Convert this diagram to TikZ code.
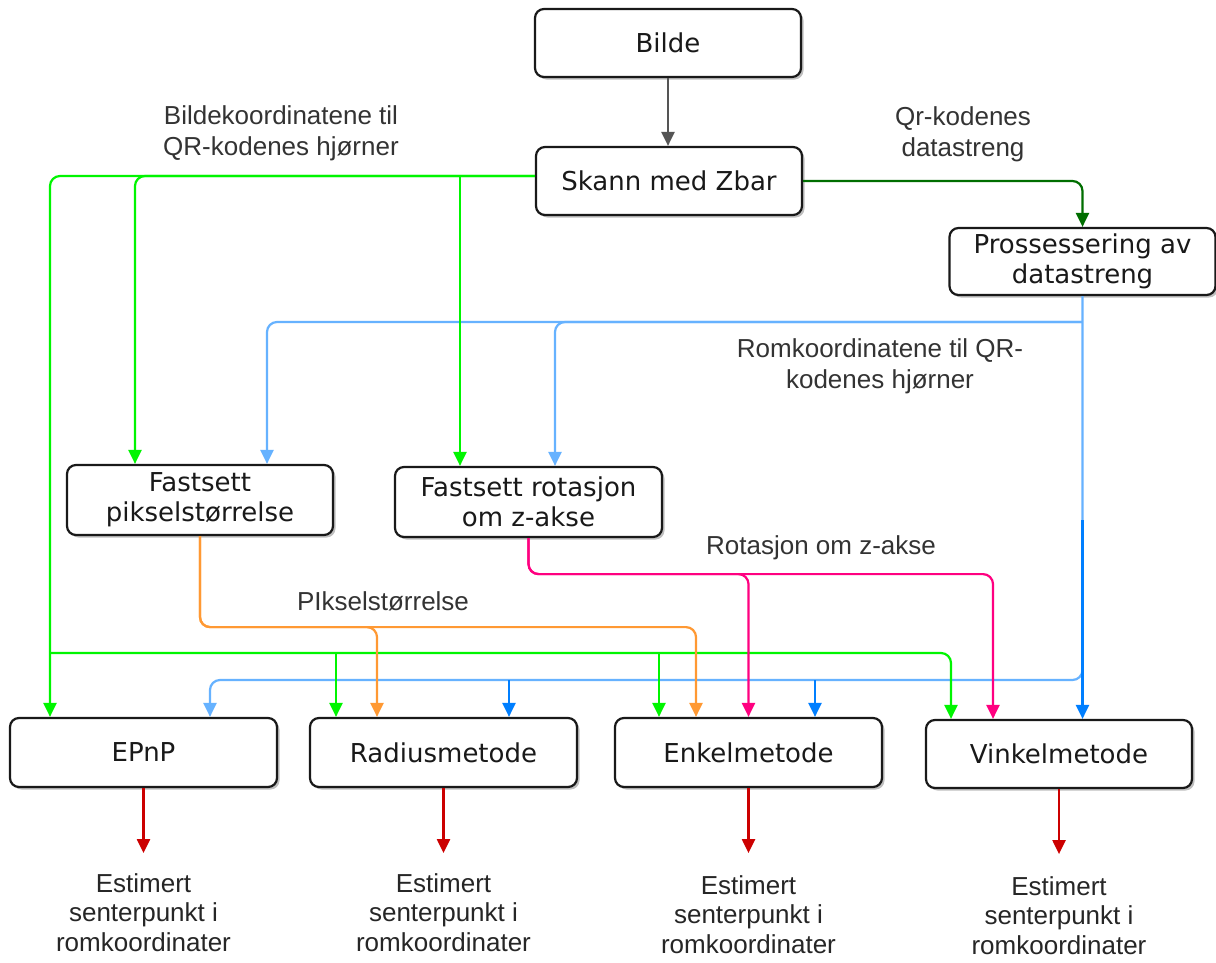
\documentclass[tikz,border=0pt]{standalone}
\usepackage{fontspec}
\usetikzlibrary{arrows.meta,shadows}
\newfontfamily\boxfont{DejaVu Sans}
\newfontfamily\lblfont{Liberation Sans}
\definecolor{cgreen}{RGB}{0,245,0}
\definecolor{cdgreen}{RGB}{0,110,0}
\definecolor{clblue}{RGB}{102,178,255}
\definecolor{cblue}{RGB}{0,127,255}
\definecolor{corange}{RGB}{255,153,51}
\definecolor{cpink}{RGB}{255,0,128}
\definecolor{cred}{RGB}{204,0,0}
\definecolor{cgray}{RGB}{85,85,85}
\tikzset{
  box/.style={draw=black!90, line width=2.2pt, rounded corners=9pt, fill=white,
    minimum width=266pt, minimum height=68pt, align=center, inner sep=2pt,
    font=\boxfont\fontsize{26}{30}\selectfont, text=black!90,
    drop shadow={shadow xshift=2.5pt, shadow yshift=-2.5pt, opacity=0.25, fill=black}},
  lbl/.style={font=\lblfont\fontsize{26}{31}\selectfont, text=black!80, align=center, inner sep=0pt},
  outlbl/.style={font=\lblfont\fontsize{26}{29.5}\selectfont, text=black!85, align=center, inner sep=0pt, anchor=north},
  conn/.style={line width=2.2pt, -{Triangle[length=14pt,width=13pt]}},
  gline/.style={conn, draw=cgreen},
  dgline/.style={conn, draw=cdgreen},
  lbline/.style={conn, draw=clblue},
  bline/.style={conn, draw=cblue},
  oline/.style={conn, draw=corange},
  pline/.style={conn, draw=cpink},
  rline/.style={conn, draw=cred},
  grline/.style={conn, draw=cgray},
}
\begin{document}
\begin{tikzpicture}[x=1pt,y=-1pt]
\fill[white] (0,0) rectangle (1216,962);
\useasboundingbox (0,0) rectangle (1216,962);

% boxes
\node[box] (bilde) at (668,43) {Bilde};
\node[box] (skann) at (669,181) {Skann med Zbar};
\node[box, minimum height=67pt] (pros) at (1082.5,261.5) {Prossessering av\\datastreng};
\node[box, minimum height=70pt] (piks) at (200,500) {Fastsett\\pikselstørrelse};
\node[box, minimum height=70pt, minimum width=267pt] (rot) at (528.5,502) {Fastsett rotasjon\\om z-akse};
\node[box, minimum height=69pt, minimum width=267pt] (epnp) at (143.5,752.5) {EPnP};
\node[box, minimum height=69pt, minimum width=267pt] (radius) at (443.5,752.5) {Radiusmetode};
\node[box, minimum height=69pt, minimum width=267pt] (enkel) at (748.5,752.5) {Enkelmetode};
\node[box, minimum height=68pt] (vinkel) at (1059,754) {Vinkelmetode};

% labels
\node[lbl] (l1) at (281,133) {Bildekoordinatene til\\QR-kodenes hjørner};
\node[lbl] (l2) at (963,134) {Qr-kodenes\\datastreng};
\node[lbl] (l3) at (880,366) {Romkoordinatene til QR-\\kodenes hjørner};
\node[lbl, anchor=base] (l4) at (821,554) {Rotasjon om z-akse};
\node[lbl, anchor=base] (l5) at (383,610) {PIkselstørrelse};

\node[outlbl] (o1) at (143.5,873) {Estimert\\senterpunkt i\\romkoordinater};
\node[outlbl] (o2) at (443.5,873) {Estimert\\senterpunkt i\\romkoordinater};
\node[outlbl] (o3) at (748.5,875) {Estimert\\senterpunkt i\\romkoordinater};
\node[outlbl] (o4) at (1059,876) {Estimert\\senterpunkt i\\romkoordinater};

% gray and dark green
\draw[grline] (bilde.south) -- (bilde.south |- skann.north);
\draw[dgline, rounded corners=10pt] (skann.east) -| (pros.north);

% light blue
\coordinate (bj1) at (1082.5,322);
\coordinate (bj2) at (1082.5,680);
\draw[lbline, rounded corners=10pt] (pros.south) -- (bj2) -| ([xshift=66.5pt]epnp.north);
\draw[lbline, rounded corners=10pt] (bj1) -| ([xshift=67pt]piks.north);
\draw[lbline, rounded corners=10pt] (bj1) -| ([xshift=26.5pt]rot.north);

% dark blue
\coordinate (db) at (1082.5,520);
\draw[bline] (db) -- ([xshift=23.5pt]vinkel.north);
\draw[bline] ([xshift=65.5pt]radius.north |- bj2) -- ([xshift=65.5pt]radius.north);
\draw[bline] ([xshift=66.5pt]enkel.north |- bj2) -- ([xshift=66.5pt]enkel.north);

% green
\coordinate (gy) at ([yshift=5pt]skann.west);
\draw[gline, rounded corners=10pt] (gy) -| ([xshift=-93.5pt]epnp.north);
\draw[gline, rounded corners=10pt] (gy) -| ([xshift=-65pt]piks.north);
\draw[gline] (gy) -| ([xshift=-68.5pt]rot.north);
\coordinate (gj) at (50,653);
\draw[gline] (gj) -| ([xshift=-107.5pt]radius.north);
\draw[gline] (gj) -| ([xshift=-89.5pt]enkel.north);
\draw[gline, rounded corners=10pt] (gj) -| ([xshift=-108pt]vinkel.north);

% orange
\draw[oline, rounded corners=10pt] (piks.south) -- ++(0,91) -| ([xshift=-66.5pt]radius.north);
\draw[oline, rounded corners=10pt] (piks.south) -- ++(0,91) -| ([xshift=-52.5pt]enkel.north);

% pink
\draw[pline, rounded corners=10pt] (rot.south) -- ++(0,36) -| (enkel.north);
\draw[pline, rounded corners=10pt] (rot.south) -- ++(0,36) -| ([xshift=-66pt]vinkel.north);

% red
\draw[rline] (epnp.south) -- ++(0,65);
\draw[rline] (radius.south) -- ++(0,65);
\draw[rline] (enkel.south) -- ++(0,65);
\draw[rline] (vinkel.south) -- ++(0,65);
\end{tikzpicture}
\end{document}
